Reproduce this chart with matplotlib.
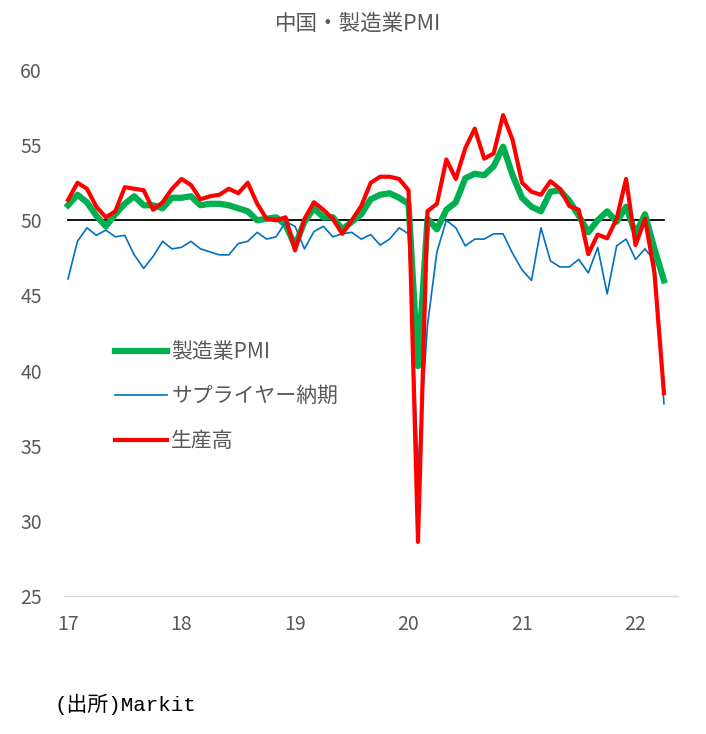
import numpy as np
import matplotlib.pyplot as plt

plt.rcParams['font.family'] = ['Noto Sans CJK JP', 'DejaVu Sans']

# monthly, Jan 2017 - Apr 2022
pmi = [51.0, 51.7, 51.2, 50.3, 49.6, 50.4, 51.1, 51.6, 51.0, 51.0, 50.8, 51.5,
       51.5, 51.6, 51.0, 51.1, 51.1, 51.0, 50.8, 50.6, 50.0, 50.1, 50.2, 49.7,
       48.3, 49.9, 50.8, 50.2, 50.2, 49.4, 49.9, 50.4, 51.4, 51.7, 51.8, 51.5,
       51.1, 40.3, 50.1, 49.4, 50.7, 51.2, 52.8, 53.1, 53.0, 53.6, 54.9, 53.0,
       51.5, 50.9, 50.6, 51.9, 52.0, 51.3, 50.3, 49.2, 50.0, 50.6, 49.9, 50.9,
       49.1, 50.4, 48.1, 46.0]
supplier = [46.1, 48.6, 49.5, 49.0, 49.35, 48.9, 49.0, 47.7, 46.8, 47.6, 48.6, 48.1,
            48.2, 48.6, 48.1, 47.9, 47.7, 47.7, 48.45, 48.6, 49.2, 48.75, 48.9, 49.9,
            49.6, 48.1, 49.25, 49.6, 48.9, 49.1, 49.2, 48.75, 49.05, 48.35, 48.75, 49.5,
            49.1, 33.5, 43.0, 47.9, 50.0, 49.5, 48.3, 48.75, 48.75, 49.1, 49.1, 47.8,
            46.7, 46.0, 49.5, 47.3, 46.9, 46.9, 47.4, 46.5, 48.2, 45.1, 48.3, 48.75,
            47.4, 48.1, 47.3, 37.8]
output = [51.35, 52.5, 52.1, 50.9, 50.2, 50.6, 52.2, 52.1, 52.0, 50.7, 51.2, 52.1,
          52.75, 52.35, 51.4, 51.6, 51.7, 52.1, 51.8, 52.5, 51.1, 50.1, 50.0, 50.2,
          48.0, 50.1, 51.2, 50.7, 50.1, 49.1, 50.0, 50.95, 52.5, 52.9, 52.9, 52.75,
          52.0, 28.6, 50.6, 51.1, 54.05, 52.75, 54.8, 56.1, 54.1, 54.45, 57.0, 55.35,
          52.5, 51.9, 51.7, 52.6, 52.1, 50.95, 50.7, 47.75, 49.05, 48.8, 50.1, 52.75,
          48.35, 50.1, 46.5, 38.5]
year_labels = ['17', '18', '19', '20', '21', '22']

x = 2017 + np.arange(len(pmi)) / 12

fig = plt.figure(figsize=(7.06, 7.34), dpi=100)
ax = fig.add_axes([0.0907, 0.188, 0.869, 0.7166])

ax.plot(x, np.full(len(x), 50.0), color='black', lw=1.3, zorder=1)
ax.plot(x, pmi, color='#00B050', lw=4.5, label='製造業PMI', zorder=2)
ax.plot(x, supplier, color='#0070C0', lw=1.2, label='サプライヤー納期', zorder=3)
ax.plot(x, output, color='#FF0000', lw=3.0, label='生産高', zorder=4)

ax.set_ylim(25, 60)
ax.set_xlim(2016.965, 2022.37)
ax.set_yticks(range(25, 61, 5))
ax.set_xticks(range(2017, 2023))
ax.set_xticklabels(year_labels)

for s in ['top', 'right', 'left']:
    ax.spines[s].set_visible(False)
ax.spines['bottom'].set_color('#D9D9D9')
ax.spines['bottom'].set_linewidth(1.0)
ax.tick_params(axis='both', length=0, labelsize=14, colors='#595959')
ax.tick_params(axis='y', pad=16)
ax.tick_params(axis='x', pad=13)

leg = ax.legend(loc='upper left', bbox_to_anchor=(0.066, 0.505), frameon=False,
                fontsize=15, handlelength=2.5, handletextpad=0.2,
                labelspacing=1.08, borderpad=0)
for t in leg.get_texts():
    t.set_color('#595959')

fig.text(0.507, 0.968, '中国・製造業PMI', ha='center', va='center',
         fontsize=15.5, color='#595959')
fig.text(0.077, 0.04, '(出所)Markit', ha='left', va='center', fontsize=15,
         family=['Liberation Mono', 'Noto Sans CJK JP'], color='black')

fig.savefig('out.png', dpi=100)
